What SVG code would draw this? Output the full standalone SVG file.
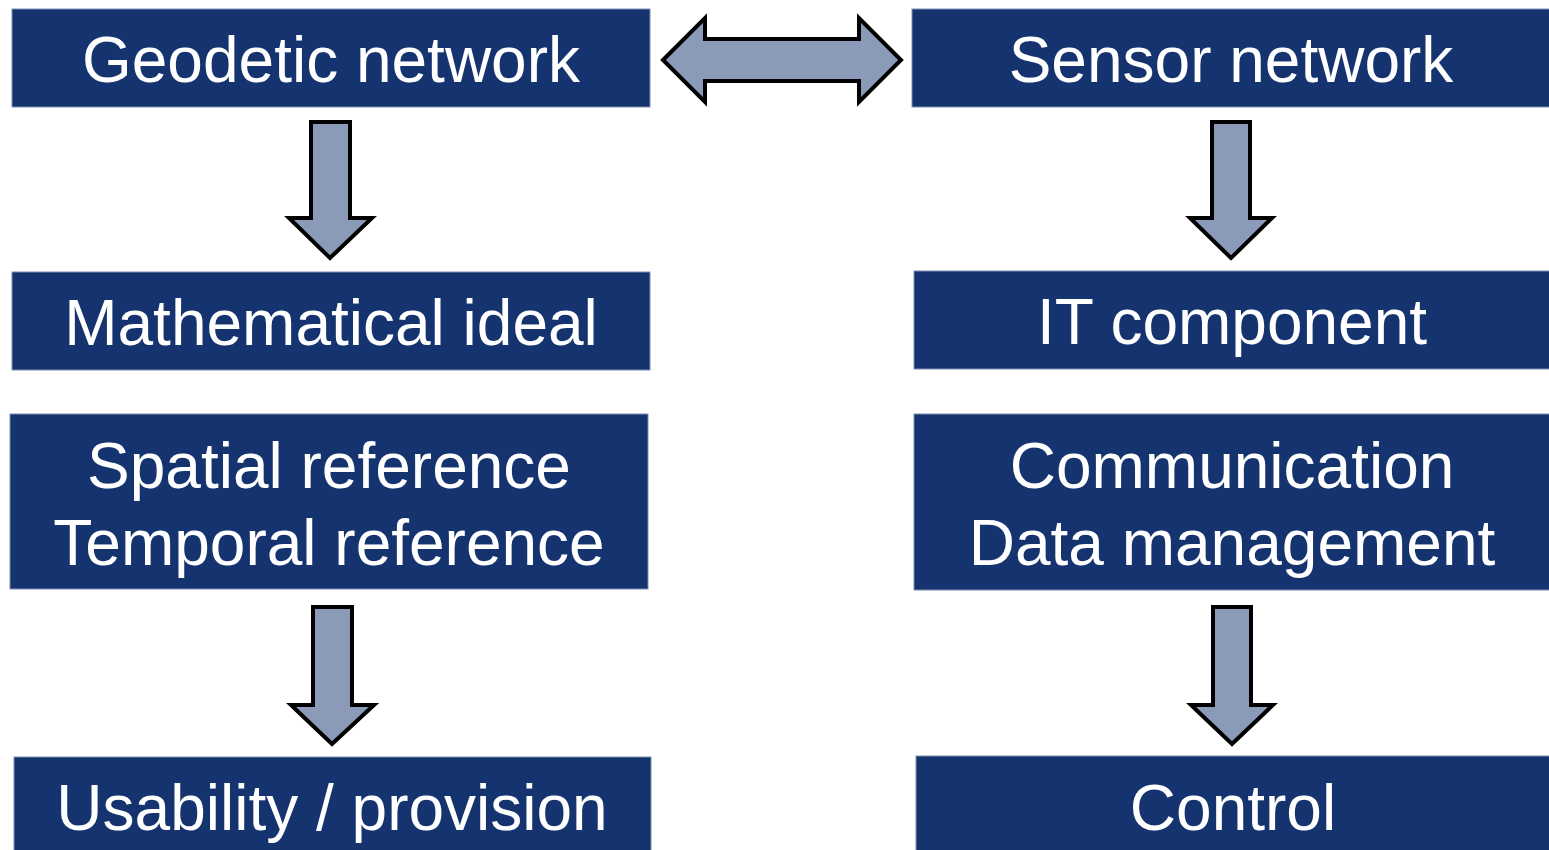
<svg xmlns="http://www.w3.org/2000/svg" width="1549" height="850" viewBox="0 0 1549 850">
<style>
.box{fill:#14336F;stroke:#7f90b3;stroke-width:1}
.t{fill:#fff;font-family:"Liberation Sans",Arial,sans-serif;font-size:64px;text-anchor:middle}
.arr{fill:#8A9AB8;stroke:#000;stroke-width:4;stroke-linejoin:miter}
</style>
<rect width="1549" height="850" fill="#fff"/>
<g id="geodetic"><rect class="box" x="12" y="9" width="638" height="98"/><text class="t" x="331" y="82">Geodetic network</text></g>
<g id="math"><rect class="box" x="12" y="272" width="638" height="98"/><text class="t" x="331" y="345">Mathematical ideal</text></g>
<g id="spatial"><rect class="box" x="10" y="414" width="638" height="175"/><text class="t" x="329" y="488">Spatial reference</text><text class="t" x="329" y="565">Temporal reference</text></g>
<g id="usability"><rect class="box" x="14" y="757" width="637" height="95"/><text class="t" x="332" y="830">Usability / provision</text></g>
<g id="sensor"><rect class="box" x="912" y="9" width="638" height="98"/><text class="t" x="1231" y="82">Sensor network</text></g>
<g id="it"><rect class="box" x="914" y="271" width="636" height="98"/><text class="t" x="1232" y="344">IT component</text></g>
<g id="comm"><rect class="box" x="914" y="414" width="636" height="176"/><text class="t" x="1232" y="488">Communication</text><text class="t" x="1232" y="565">Data management</text></g>
<g id="control"><rect class="box" x="916" y="756" width="634" height="96"/><text class="t" x="1233" y="830">Control</text></g>
<g id="connectors">
<polygon class="arr" points="663,60 705,18 705,39 859,39 859,18 901,60 859,102 859,81 705,81 705,102"/>
<polygon class="arr" points="311,122 350,122 350,218 372,218 330,258 289,218 311,218"/>
<polygon class="arr" points="313,607 352,607 352,705 374,705 332,744 291,705 313,705"/>
<polygon class="arr" points="1212,122 1250,122 1250,218 1272,218 1231,258 1190,218 1212,218"/>
<polygon class="arr" points="1213,607 1251,607 1251,705 1273,705 1232,744 1191,705 1213,705"/>
</g>
</svg>
